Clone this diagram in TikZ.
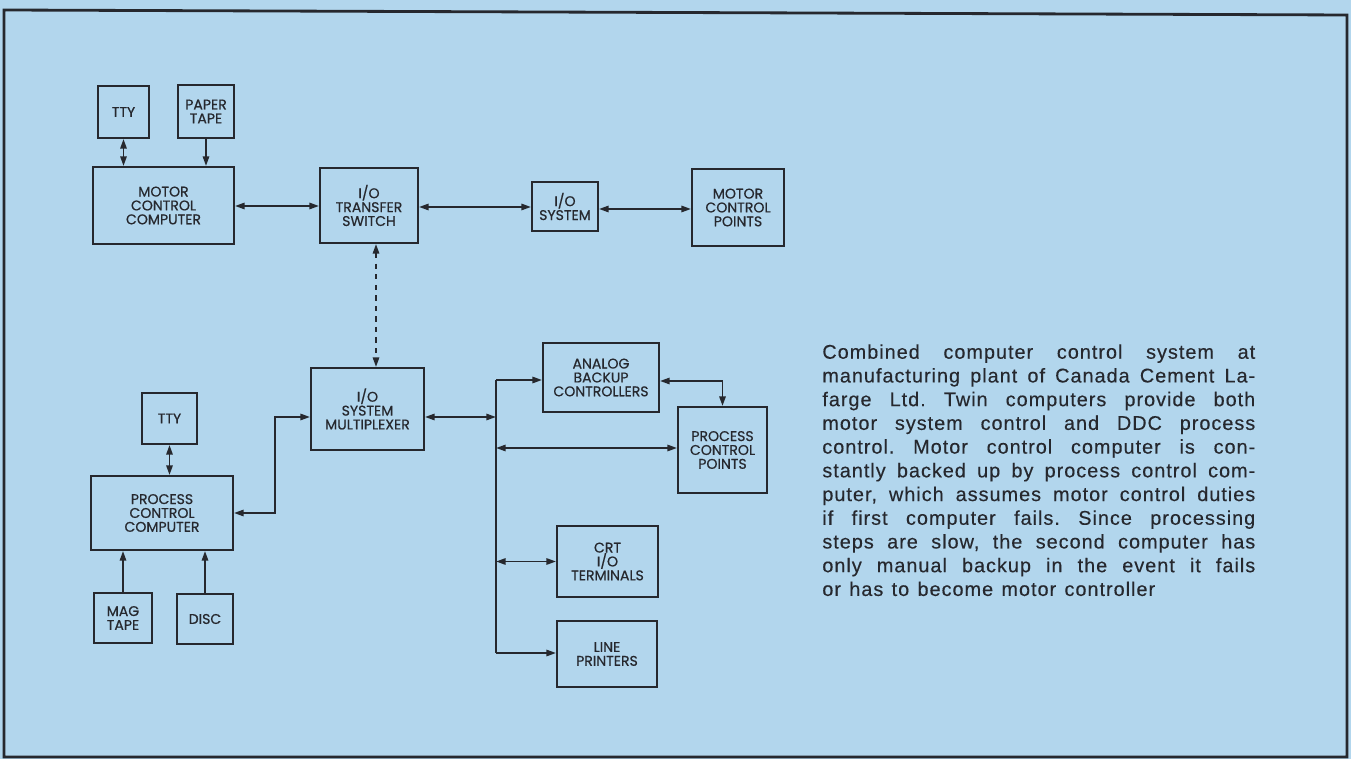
\documentclass[tikz,border=0pt]{standalone}
\usepackage{fontspec}
\setmainfont{Liberation Sans}
\newfontfamily\boxfont[FakeBold=0.6]{Poppins}
\newfontfamily\notefont[LetterSpace=5,FakeBold=0.3]{Liberation Sans}
\usetikzlibrary{arrows.meta,positioning}
\definecolor{paper}{RGB}{178,214,237}
\definecolor{ink}{RGB}{38,40,46}
\newcommand{\noteline}[1]{\hbox to 8.66cm{\frenchspacing\spaceskip=.3em plus 1fil\relax #1}}

\begin{document}
\begin{tikzpicture}[x=0.02cm,y=-0.02cm,
 every node/.style={inner sep=0pt,align=center,text=ink,font=\boxfont\fontsize{8}{7.9}\selectfont},
 blk/.style 2 args={draw=ink,line width=1.1pt,minimum width=#1cm,minimum height=#2cm},
 link/.style={draw=ink,line width=1.1pt,{Triangle[length=5.5pt,width=3.6pt]}-{Triangle[length=5.5pt,width=3.6pt]}},
 feed/.style={draw=ink,line width=1.1pt,-{Triangle[length=5.5pt,width=3.6pt]}}]
\path[use as bounding box,fill=paper] (0,0) rectangle (1351,759);
\draw[ink,line width=1.6pt] (4,10) -- (1347,15) -- (1347,757) -- (4,757) -- cycle;

% motor control side
\node[blk={1.02}{1.04}] (ttyM) at (123.5,112) {TTY};
\node[blk={1.12}{1.06}] (tape) at (206,111.5) {PAPER\\TAPE};
\node[blk={2.82}{1.54}] (mcc) at (163.5,205.5) {MOTOR\\CONTROL\\COMPUTER};
\node[blk={1.96}{1.50}] (xfer) at (369,205.5) {I/O\\TRANSFER\\SWITCH};
\node[blk={1.32}{0.98}] (iosys) at (565,206.5) {I/O\\SYSTEM};
\node[blk={1.84}{1.54}] (mcp) at (738,207.5) {MOTOR\\CONTROL\\POINTS};

% process control side
\node[blk={2.26}{1.64}] (mux) at (367.5,409) {I/O\\SYSTEM\\MULTIPLEXER};
\node[blk={1.10}{1.02}] (ttyP) at (169.5,418.5) {TTY};
\node[blk={2.84}{1.48}] (pcc) at (162,513) {PROCESS\\CONTROL\\COMPUTER};
\node[blk={1.16}{1.00}] (mag) at (123,618) {MAG\\TAPE};
\node[blk={1.12}{1.00}] (disc) at (205,619) {DISC};
\node[blk={2.32}{1.38}] (abc) at (601,377.5) {ANALOG\\BACKUP\\CONTROLLERS};
\node[blk={1.78}{1.72}] (pcp) at (722.5,450) {PROCESS\\CONTROL\\POINTS};
\node[blk={2.02}{1.42}] (crt) at (607.5,561.5) {CRT\\I/O\\TERMINALS};
\node[blk={2.00}{1.32}] (lp) at (607,654) {LINE\\PRINTERS};

\coordinate (busT) at (496,380);
\coordinate (busB) at (496,653);
\coordinate (dash) at (376,300);

% connectors
\draw[link] (ttyM.south) -- (ttyM.south |- mcc.north);
\draw[feed] (tape.south) -- (tape.south |- mcc.north);
\draw[link] (mcc.east |- 0,206) -- (xfer.west |- 0,206);
\draw[link] (xfer.east |- 0,207) -- (iosys.west |- 0,207);
\draw[link] (iosys.east |- 0,209) -- (mcp.west |- 0,209);
\draw[link,dashed] (dash |- xfer.south) -- (dash |- mux.north);
\draw[link] (ttyP.south) -- (ttyP.south |- pcc.north);
\draw[feed] (mag.north) -- (mag.north |- pcc.south);
\draw[feed] (disc.north) -- (disc.north |- pcc.south);
\draw[link] (pcc.east) -- ++(41,0) |- (mux.west |- 0,417);
\draw[link] (mux.east |- 0,417) -- (busT |- 0,417);
\draw[ink,line width=1.1pt] (busT) -- (busB);
\draw[feed] (busT) -- (abc.west |- busT);
\draw[link] (abc.east |- 0,381) -| (pcp.north);
\draw[link] (busT |- 0,448) -- (pcp.west |- 0,448);
\draw[link] (busT |- crt) -- (crt.west);
\draw[feed] (busB) -- (lp.west |- busB);

% caption
\node[anchor=north west,text width=8.66cm,align=left,font=\notefont\fontsize{11.3}{13.5}\selectfont] (note) at (822,344) {%
\noteline{Combined computer control system at}
\noteline{manufacturing plant of Canada Cement La-}
\noteline{farge Ltd. Twin computers provide both}
\noteline{motor system control and DDC process}
\noteline{control. Motor control computer is con-}
\noteline{stantly backed up by process control com-}
\noteline{puter, which assumes motor control duties}
\noteline{if first computer fails. Since processing}
\noteline{steps are slow, the second computer has}
\noteline{only manual backup in the event it fails}
\hbox{\frenchspacing\spaceskip=.42em plus .1em\relax or has to become motor controller}};
\end{tikzpicture}
\end{document}
